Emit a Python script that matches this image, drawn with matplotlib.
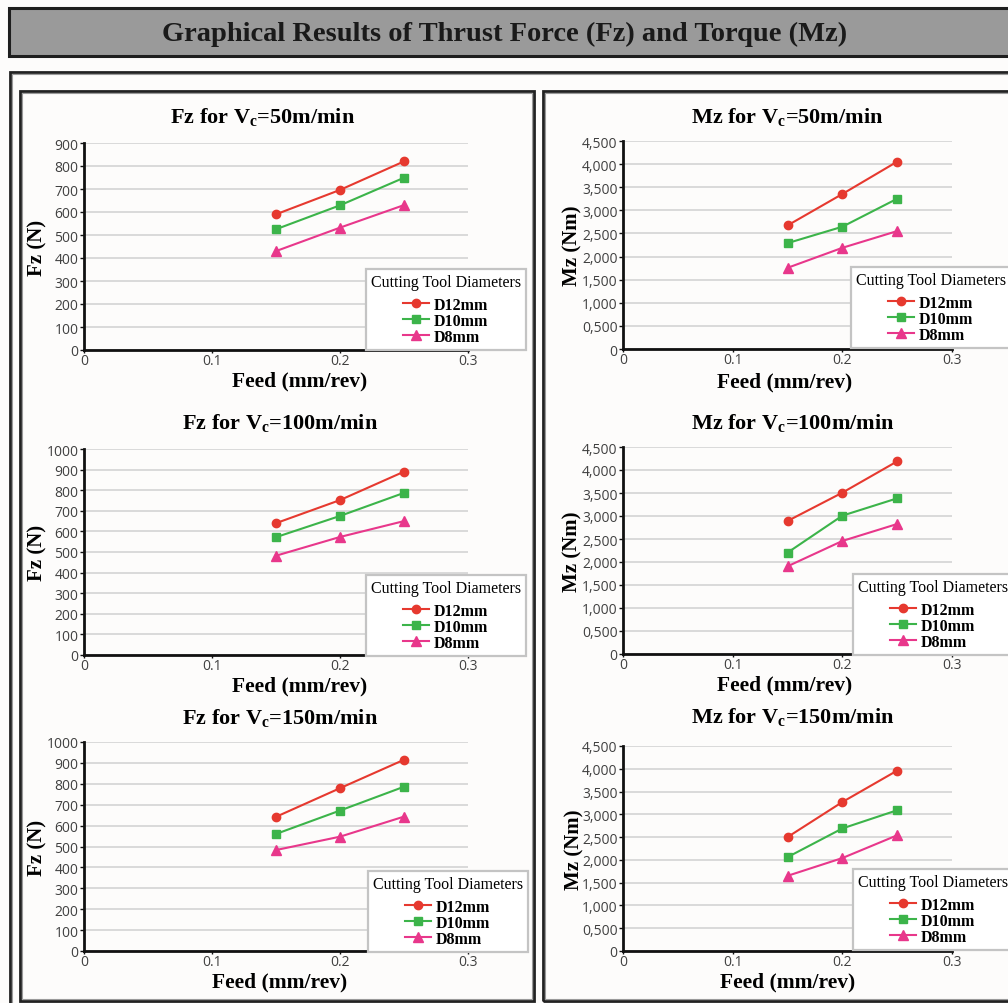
import matplotlib.pyplot as plt
from matplotlib.patches import Rectangle
from matplotlib.font_manager import FontProperties

plt.rcParams['mathtext.fontset'] = 'custom'
plt.rcParams['mathtext.rm'] = 'Liberation Serif:bold'
plt.rcParams['mathtext.it'] = 'Liberation Serif:bold'
plt.rcParams['mathtext.bf'] = 'Liberation Serif:bold'

feed = [0.15, 0.2, 0.25]
diameters = ['D12mm', 'D10mm', 'D8mm']
x_ticks = [0, 0.1, 0.2, 0.3]
x_labels = ['0', '0.1', '0.2', '0.3']

fz50_d12 = [590, 696, 820]
fz50_d10 = [525, 629, 749]
fz50_d8 = [430, 532, 630]
fz100_d12 = [640, 752, 890]
fz100_d10 = [572, 675, 787]
fz100_d8 = [482, 573, 650]
fz150_d12 = [642, 779, 915]
fz150_d10 = [560, 672, 786]
fz150_d8 = [483, 547, 643]

mz50_d12 = [2673, 3353, 4053]
mz50_d10 = [2290, 2645, 3251]
mz50_d8 = [1756, 2189, 2551]
mz100_d12 = [2891, 3507, 4188]
mz100_d10 = [2203, 3007, 3384]
mz100_d8 = [1906, 2457, 2826]
mz150_d12 = [2500, 3270, 3960]
mz150_d10 = [2060, 2690, 3090]
mz150_d8 = [1650, 2040, 2540]

fz_ticks_900 = list(range(0, 1000, 100))
fz_labels_900 = [str(v) for v in fz_ticks_900]
fz_ticks_1000 = list(range(0, 1100, 100))
fz_labels_1000 = [str(v) for v in fz_ticks_1000]
mz_ticks = list(range(0, 5000, 500))
mz_labels = ['0', '0,500', '1,000', '1,500', '2,000', '2,500',
             '3,000', '3,500', '4,000', '4,500']

colors = ['#e6392f', '#3cb44a', '#e8378b']
markers = ['o', 's', '^']
msizes = [6, 6, 7.5]

W, H = 1008, 1004
fig = plt.figure(figsize=(W / 100, H / 100), dpi=100)
fig.patch.set_facecolor('#fdfcfb')


def fx(px):
    return px / W


def fy(py):
    return 1 - py / H


def frame(x0, y0, x1, y1, face='none', edge='#222222', lw=2.0, inner=True):
    fig.add_artist(Rectangle((fx(x0), fy(y1)), fx(x1) - fx(x0), fy(y0) - fy(y1),
                             transform=fig.transFigure, facecolor=face,
                             edgecolor=edge, linewidth=lw, zorder=0))
    if inner:
        fig.add_artist(Rectangle((fx(x0 + 2), fy(y1 - 2)), fx(x1 - 2) - fx(x0 + 2),
                                 fy(y0 + 2) - fy(y1 - 2), transform=fig.transFigure,
                                 facecolor='none', edgecolor='#9a9a9a',
                                 linewidth=0.8, zorder=0))


# header bar and frames
frame(9, 9, 1020, 57, face='#9a9a9a', edge='#1e1e1e', lw=2.2, inner=False)
fig.text(fx(505), fy(34), 'Graphical Results of Thrust Force (Fz) and Torque (Mz)',
         ha='center', va='center', fontsize=20.5, fontweight='bold',
         family='Liberation Serif', color='#1a1a1a')
frame(10, 73, 1020, 1020)
frame(20, 92, 534, 1002)
frame(543, 92, 1020, 1002)

serif_b = FontProperties(family='Liberation Serif', weight='bold', size=11.5)
serif_n = FontProperties(family='Liberation Serif', size=11.5)


def draw_panel(box, title, title_xy, series, yticks, ylabels, ylabel,
               ylabel_x, xlabel_xy, legend_xy):
    left, top, right, bottom = box
    ax = fig.add_axes([fx(left), fy(bottom), fx(right) - fx(left), fy(top) - fy(bottom)])
    ax.set_facecolor('none')
    handles = []
    for vals, c, m, ms in zip(series, colors, markers, msizes):
        h, = ax.plot(feed, vals, color=c, marker=m, markersize=ms, linewidth=1.5,
                     zorder=3, clip_on=False)
        handles.append(h)
    ax.set_xlim(0, 0.3)
    ax.set_ylim(yticks[0], yticks[-1])
    ax.set_xticks(x_ticks)
    ax.set_xticklabels(x_labels)
    ax.set_yticks(yticks)
    ax.set_yticklabels(ylabels)
    ax.grid(axis='y', color='#d4d4d4', linewidth=1.2)
    ax.set_axisbelow(True)
    for s in ['top', 'right']:
        ax.spines[s].set_visible(False)
    for s in ['left', 'bottom']:
        ax.spines[s].set_color('#111111')
        ax.spines[s].set_linewidth(2)
    ax.tick_params(axis='both', labelsize=10, labelcolor='#404040', color='#111111',
                   length=3, width=1, pad=1)
    ax.tick_params(axis='x', length=2, pad=0)
    for lab in ax.get_xticklabels() + ax.get_yticklabels():
        lab.set_family('Open Sans')
    ax.set_ylabel(ylabel, fontsize=15, fontweight='bold', family='Liberation Serif')
    ax.yaxis.set_label_coords((ylabel_x - left) / (right - left), 0.5)
    fig.text(fx(xlabel_xy[0]), fy(xlabel_xy[1]), 'Feed (mm/rev)', ha='center',
             va='center', fontsize=15.5, fontweight='bold', family='Liberation Serif')
    fig.text(fx(title_xy[0]), fy(title_xy[1]), title, ha='center', va='center',
             fontsize=16, fontweight='bold', family='Liberation Serif')
    leg = ax.legend(handles, diameters, title='Cutting Tool Diameters',
                    loc='upper left', bbox_to_anchor=(fx(legend_xy[0]), fy(legend_xy[1])),
                    bbox_transform=fig.transFigure, prop=serif_b,
                    title_fontproperties=serif_n, fancybox=False, framealpha=1,
                    edgecolor='#c4c4c4', alignment='center', handlelength=1.6,
                    handletextpad=0.3, labelspacing=0.0, borderpad=0.3,
                    borderaxespad=0)
    leg._legend_box.sep = 5
    leg.get_frame().set_linewidth(1.6)
    leg.set_zorder(5)
    return ax


draw_panel((84, 144, 468, 351), 'Fz for V$_{\\mathrm{c}}$=50m/min', (263, 117),
           [fz50_d12, fz50_d10, fz50_d8], fz_ticks_900, fz_labels_900, 'Fz (N)',
           47, (300, 381), (366, 270))
draw_panel((84, 450, 468, 656), 'Fz for V$_{\\mathrm{c}}$=100m/min', (280, 423),
           [fz100_d12, fz100_d10, fz100_d8], fz_ticks_1000, fz_labels_1000, 'Fz (N)',
           47, (300, 686), (366, 576))
draw_panel((84, 743, 468, 952), 'Fz for V$_{\\mathrm{c}}$=150m/min', (280, 718),
           [fz150_d12, fz150_d10, fz150_d8], fz_ticks_1000, fz_labels_1000, 'Fz (N)',
           47, (280, 982), (368, 872))
draw_panel((623, 142, 952, 350), 'Mz for V$_{\\mathrm{c}}$=50m/min', (787, 117),
           [mz50_d12, mz50_d10, mz50_d8], mz_ticks, mz_labels, 'Mz (Nm)',
           582, (785, 382), (851, 268))
draw_panel((623, 448, 952, 655), 'Mz for V$_{\\mathrm{c}}$=100m/min', (793, 423),
           [mz100_d12, mz100_d10, mz100_d8], mz_ticks, mz_labels, 'Mz (Nm)',
           582, (785, 685), (853, 575))
draw_panel((623, 747, 952, 952), 'Mz for V$_{\\mathrm{c}}$=150m/min', (793, 717),
           [mz150_d12, mz150_d10, mz150_d8], mz_ticks, mz_labels, 'Mz (Nm)',
           584, (788, 982), (853, 870))

fig.savefig('out.png', dpi=100)
